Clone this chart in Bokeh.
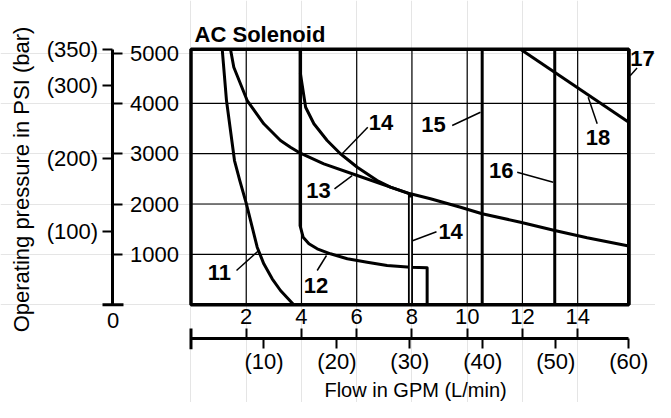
from bokeh.plotting import figure
from bokeh.models import LinearAxis, FixedTicker, Range1d, CustomJSTickFormatter
from bokeh.core.properties import value
from bokeh.embed import file_html
from bokeh.resources import INLINE

FONT = "Liberation Sans"
FS = "22px"

# ---- unit conversions / chart extents ----
PSI_PER_BAR = 14.5038
LPM_PER_GPM = 3.78541
GPM_MAX = 15.85      # 60 L/min
PSI_MAX = 5076.0     # 350 bar

# ---- tick values ----
gpm_ticks = [2, 4, 6, 8, 10, 12, 14]
lpm_ticks = [10, 20, 30, 40, 50, 60]
psi_ticks = [1000, 2000, 3000, 4000, 5000]
bar_ticks = [100, 200, 300, 350]
psi_grid = [1000, 2000, 3000, 4000]

# ---- curves (flow GPM, pressure PSI) ----
c11_gpm = [1.13, 1.285, 1.43, 1.575, 1.767, 1.999, 2.216, 2.397, 2.636, 2.94, 3.24, 3.72]
c11_psi = [5076, 4056, 3460, 2864, 2467, 2016, 1540, 1142, 812, 515, 282, 0]

c12_gpm = [3.95, 3.95, 4.06, 4.27, 4.57, 5.05, 5.66, 6.38, 7.10, 7.95, 8.55, 8.55]
c12_psi = [5076, 1570, 1341, 1210, 1110, 1011, 912, 844, 779, 745, 733, 0]

c13_gpm = [1.43, 1.55, 2.035, 2.636, 3.24, 3.60, 3.96, 4.81, 6.02, 7.22, 7.946, 8.67,
           9.76, 10.54, 11.93, 13.17, 14.34, 15.85]
c13_psi = [5076, 4718, 4056, 3594, 3262, 3129, 3010, 2799, 2566, 2334, 2203, 2104,
           1937, 1806, 1639, 1474, 1329, 1168]

c14_gpm = [3.96, 4.03, 4.15, 4.45, 4.93, 5.41, 6.02, 6.74, 7.22, 7.946]
c14_psi = [4600, 4350, 3923, 3594, 3262, 2998, 2731, 2467, 2334, 2195]
c14_drop_gpm = [7.946, 7.946]
c14_drop_psi = [2200, 0]

c15_gpm = [10.543, 10.543]
c15_psi = [0, 5076]
c16_gpm = [13.17, 13.17]
c16_psi = [0, 5076]
c17_gpm = [15.85, 15.85]
c17_psi = [0, 5076]
c18_gpm = [11.93, 15.85]
c18_psi = [5076, 3625]

# ---- curve labels and leader lines ----
lab_text = ["11", "12", "13", "14", "14", "15", "16", "17", "18"]
lab_gpm = [1.03, 4.53, 4.62, 6.88, 9.40, 8.78, 11.23, 16.35, 14.74]
lab_psi = [640, 381, 2269, 3629, 1449, 3580, 2666, 4890, 3327]
ld_x0 = [1.647, 4.569, 5.195, 6.401, 8.020, 9.457, 11.810, 15.900, 14.707]
ld_y0 = [679, 679, 2302, 3526, 1270, 3560, 2632, 4550, 3594]
ld_x1 = [2.455, 4.906, 5.836, 5.474, 8.889, 10.481, 13.114, 16.150, 14.381]
ld_y1 = [1077, 977, 2566, 2998, 1448, 3824, 2433, 4700, 4122]

# ---- canvas mapping ----
X0, X1 = -6.897, 16.818
Y0, Y1 = -1942.8, 6043.0
LEFT_AXIS_X = -2.824     # GPM position of pressure scale
BOTTOM_AXIS_Y = -671.0   # PSI position of flow scale

p = figure(width=655, height=402, x_range=Range1d(X0, X1), y_range=Range1d(Y0, Y1),
           tools="", toolbar_location=None, output_backend="svg",
           x_axis_location=None, y_axis_location=None, min_border=0,
           title=None, outline_line_color=None)
p.background_fill_color = "white"
p.border_fill_color = "white"
p.extra_y_ranges = {"bar": Range1d(Y0 / PSI_PER_BAR, Y1 / PSI_PER_BAR)}
p.extra_x_ranges = {"lpm": Range1d(X0 * LPM_PER_GPM, X1 * LPM_PER_GPM)}

paren = CustomJSTickFormatter(code="return '(' + tick.toFixed(0) + ')';")

def style(ax, standoff):
    ax.major_tick_in = 0
    ax.major_tick_out = 10
    ax.minor_tick_in = 0
    ax.minor_tick_out = 0
    ax.major_tick_line_width = 2
    ax.major_tick_line_color = "black"
    ax.axis_line_color = "black"
    ax.axis_line_width = 3
    ax.major_label_text_font = FONT
    ax.major_label_text_font_size = FS
    ax.major_label_text_color = "black"
    ax.major_label_standoff = standoff

psi_axis = LinearAxis(fixed_location=LEFT_AXIS_X, ticker=FixedTicker(ticks=psi_ticks),
                      bounds=(0, PSI_MAX))
style(psi_axis, 7)
p.add_layout(psi_axis, "right")

bar_axis = LinearAxis(y_range_name="bar", fixed_location=LEFT_AXIS_X,
                      ticker=FixedTicker(ticks=bar_ticks), formatter=paren)
style(bar_axis, 5)
bar_axis.axis_line_color = None
p.add_layout(bar_axis, "left")

gpm_axis = LinearAxis(fixed_location=BOTTOM_AXIS_Y, ticker=FixedTicker(ticks=gpm_ticks),
                      bounds=(0, GPM_MAX))
style(gpm_axis, 4)
p.add_layout(gpm_axis, "above")

lpm_axis = LinearAxis(x_range_name="lpm", fixed_location=BOTTOM_AXIS_Y,
                      ticker=FixedTicker(ticks=lpm_ticks), formatter=paren)
style(lpm_axis, 1)
lpm_axis.axis_line_color = None
p.add_layout(lpm_axis, "below")

# scale end caps
p.segment(x0=[LEFT_AXIS_X - 0.38], y0=[0], x1=[LEFT_AXIS_X + 0.38], y1=[0],
          line_color="black", line_width=3)
p.segment(x0=[0], y0=[BOTTOM_AXIS_Y + 200], x1=[0], y1=[BOTTOM_AXIS_Y - 215],
          line_color="black", line_width=3)

# grid inside chart frame
p.segment(x0=gpm_ticks, y0=[0] * len(gpm_ticks), x1=gpm_ticks, y1=[PSI_MAX] * len(gpm_ticks),
          line_color="black", line_width=1.2)
p.segment(x0=[0] * len(psi_grid), y0=psi_grid, x1=[GPM_MAX] * len(psi_grid), y1=psi_grid,
          line_color="black", line_width=1.2)

# curves
for xs, ys in [(c11_gpm, c11_psi), (c12_gpm, c12_psi), (c13_gpm, c13_psi),
               (c14_gpm, c14_psi), (c15_gpm, c15_psi), (c16_gpm, c16_psi),
               (c18_gpm, c18_psi)]:
    p.line(xs, ys, line_color="black", line_width=3, line_join="round")
p.line(c14_drop_gpm, c14_drop_psi, line_color="black", line_width=5)
p.line(c14_drop_gpm, [c14_drop_psi[0] - 70, c14_drop_psi[1]], line_color="white", line_width=1.4)

# chart frame (right edge is curve 17)
p.quad(left=[0], right=[GPM_MAX], bottom=[0], top=[PSI_MAX], fill_color=None,
       line_color="black", line_width=3.5)
p.line(c17_gpm, c17_psi, line_color="black", line_width=3.5)

# leaders and labels
p.segment(x0=ld_x0, y0=ld_y0, x1=ld_x1, y1=ld_y1, line_color="black", line_width=1.5)
p.text(x=lab_gpm, y=lab_psi, text=lab_text, text_font=value(FONT), text_font_size=value(FS),
       text_font_style="bold", text_align="center", text_baseline="middle", text_color="black")

# titles
p.text(x=[0.13], y=[5367], text=["AC Solenoid"], text_font=value(FONT),
       text_font_size=value(FS), text_font_style="bold", text_align="left",
       text_baseline="alphabetic", text_color="black")
p.text(x=[LEFT_AXIS_X], y=[-304], text=["0"], text_font=value(FONT), text_font_size=value(FS),
       text_align="center", text_baseline="middle", text_color="black")
p.text(x=[8.13], y=[-1704], text=["Flow in GPM (L/min)"], text_font=value(FONT),
       text_font_size=value("20px"), text_align="center", text_baseline="alphabetic",
       text_color="black")
p.text(x=[-6.137], y=[2487], text=["Operating pressure in PSI (bar)"], text_font=value(FONT),
       text_font_size=value(FS), text_align="center", text_baseline="middle",
       angle=1.5708, text_color="black")

open("out.html", "w").write(file_html(p, INLINE))
